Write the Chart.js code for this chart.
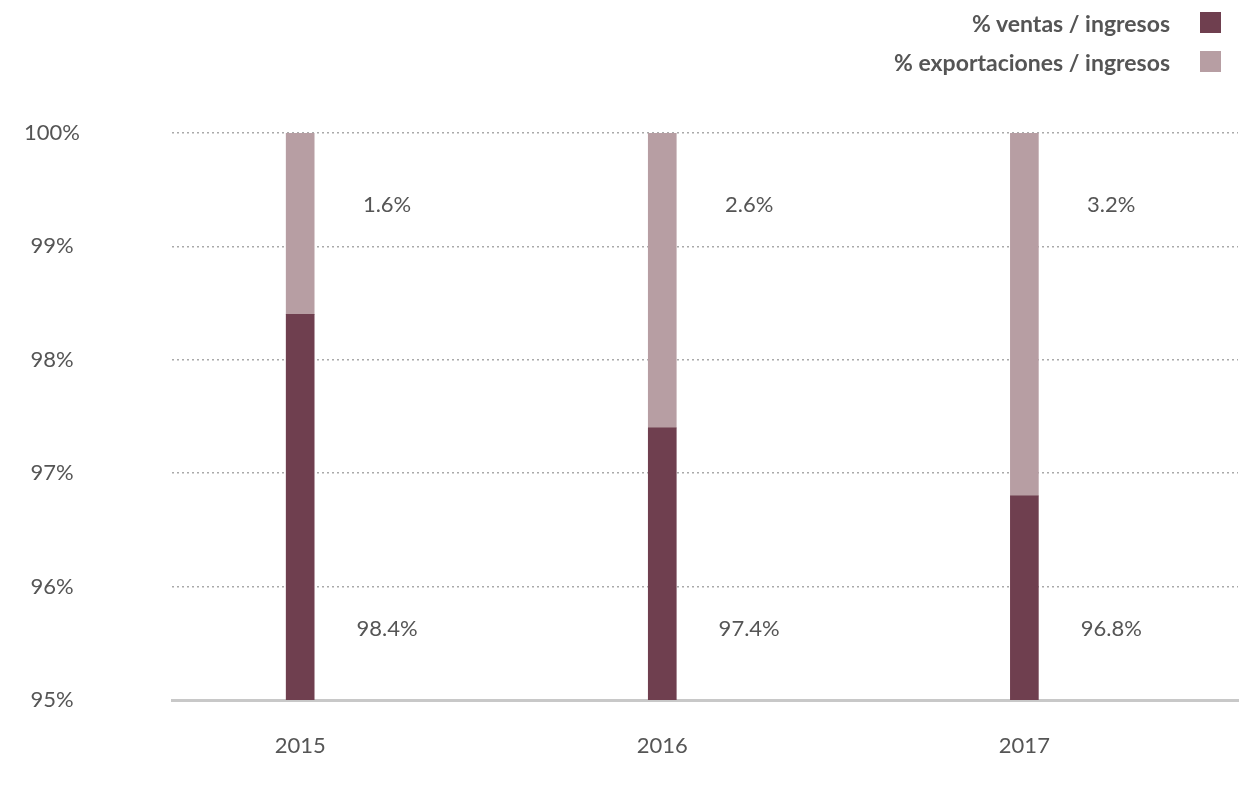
<!DOCTYPE html>
<html lang="es">
<head>
<meta charset="utf-8">
<title>Ventas y exportaciones / ingresos</title>
<script src="https://cdn.jsdelivr.net/npm/chart.js@4.4.1/dist/chart.umd.min.js"></script>
<style>
    html, body { margin: 0; padding: 0; background: #fff; overflow: hidden; }
    #caja { position: relative; width: 1258px; height: 785px; }
    #canvas1 { display: block; }
    #leyenda { position: absolute; right: 37px; top: 3px; font-family: Lato, sans-serif; font-weight: bold; font-size: 23px; color: #555; }
    #leyenda div { display: flex; justify-content: flex-end; align-items: center; height: 39px; }
    #leyenda span.cuadro { display: inline-block; width: 21px; height: 21px; margin-left: 30px; }
</style>
</head>
<body>
<div id="caja">
    <canvas id="canvas1" width="1258" height="785"></canvas>
    <div id="leyenda"></div>
</div>
<script>
const anios = ['2015', '2016', '2017'];
const ventas = [98.4, 97.4, 96.8];
const exportaciones = [1.6, 2.6, 3.2];
const ticksY = [95, 96, 97, 98, 99, 100];

const nombres = ['% ventas / ingresos', '% exportaciones / ingresos'];
const colores = ['#6f3f4f', '#b79ea3'];
const fuente = 'Lato, sans-serif';
const gris = '#555';

// leyenda en html, arriba a la derecha
const leyenda = document.getElementById('leyenda');
nombres.forEach((n, i) => {
    const fila = document.createElement('div');
    fila.innerHTML = n + '<span class="cuadro" style="background:' + colores[i] + '"></span>';
    leyenda.appendChild(fila);
});

// etiquetas de porcentaje a la derecha de cada barra
const etiquetas = {
    id: 'etiquetas',
    afterDatasetsDraw(chart) {
        const ctx = chart.ctx;
        const x = chart.scales.x, y = chart.scales.y;
        ctx.save();
        ctx.font = '22px ' + fuente;
        ctx.fillStyle = gris;
        ctx.textAlign = 'center';
        ctx.textBaseline = 'middle';
        anios.forEach((a, i) => {
            const px = x.getPixelForValue(i + 0.24);
            ctx.fillText(exportaciones[i].toFixed(1) + '%', px, y.getPixelForValue(99.37));
            ctx.fillText(ventas[i].toFixed(1) + '%', px, y.getPixelForValue(95.63));
        });
        ctx.restore();
    }
};

const ctx = document.getElementById('canvas1');
new Chart(ctx, {
    type: 'bar',
    data: {
        datasets: [{
            label: nombres[0],
            data: ventas.map((v, i) => ({ x: i, y: v })),
            backgroundColor: colores[0],
            barThickness: 28
        }, {
            label: nombres[1],
            data: exportaciones.map((v, i) => ({ x: i, y: v })),
            backgroundColor: colores[1],
            barThickness: 28
        }]
    },
    options: {
        responsive: false,
        animation: false,
        layout: { padding: { top: 133, right: 20, bottom: 0, left: 0 } },
        plugins: {
            legend: { display: false },
            tooltip: { enabled: false }
        },
        scales: {
            x: {
                type: 'linear',
                stacked: true,
                offset: false,
                min: -0.354,
                max: 2.59,
                afterFit: axis => { axis.height = 85; },
                grid: { display: false },
                border: { display: true, color: '#c8c8c8', width: 3 },
                ticks: {
                    stepSize: 1,
                    includeBounds: false,
                    padding: 25,
                    color: gris,
                    font: { family: fuente, size: 22 },
                    callback: v => Number.isInteger(v) ? anios[v] : ''
                }
            },
            y: {
                stacked: true,
                min: ticksY[0],
                max: ticksY[ticksY.length - 1],
                afterBuildTicks: axis => { axis.ticks = ticksY.map(v => ({ value: v })); },
                afterFit: axis => {
                    // el padding de las etiquetas no debe empujar el eje x hacia arriba
                    axis.width = 172;
                    axis.paddingTop = 12;
                    axis.paddingBottom = 12;
                },
                grid: {
                    color: '#aaa',
                    lineWidth: 1.5,
                    drawTicks: false
                },
                border: { display: false, dash: [2, 3] },
                ticks: {
                    crossAlign: 'center',
                    padding: 92,
                    color: gris,
                    font: { family: fuente, size: 22 },
                    callback: v => v + '%'
                }
            }
        }
    },
    plugins: [etiquetas]
});
</script>
</body>
</html>
